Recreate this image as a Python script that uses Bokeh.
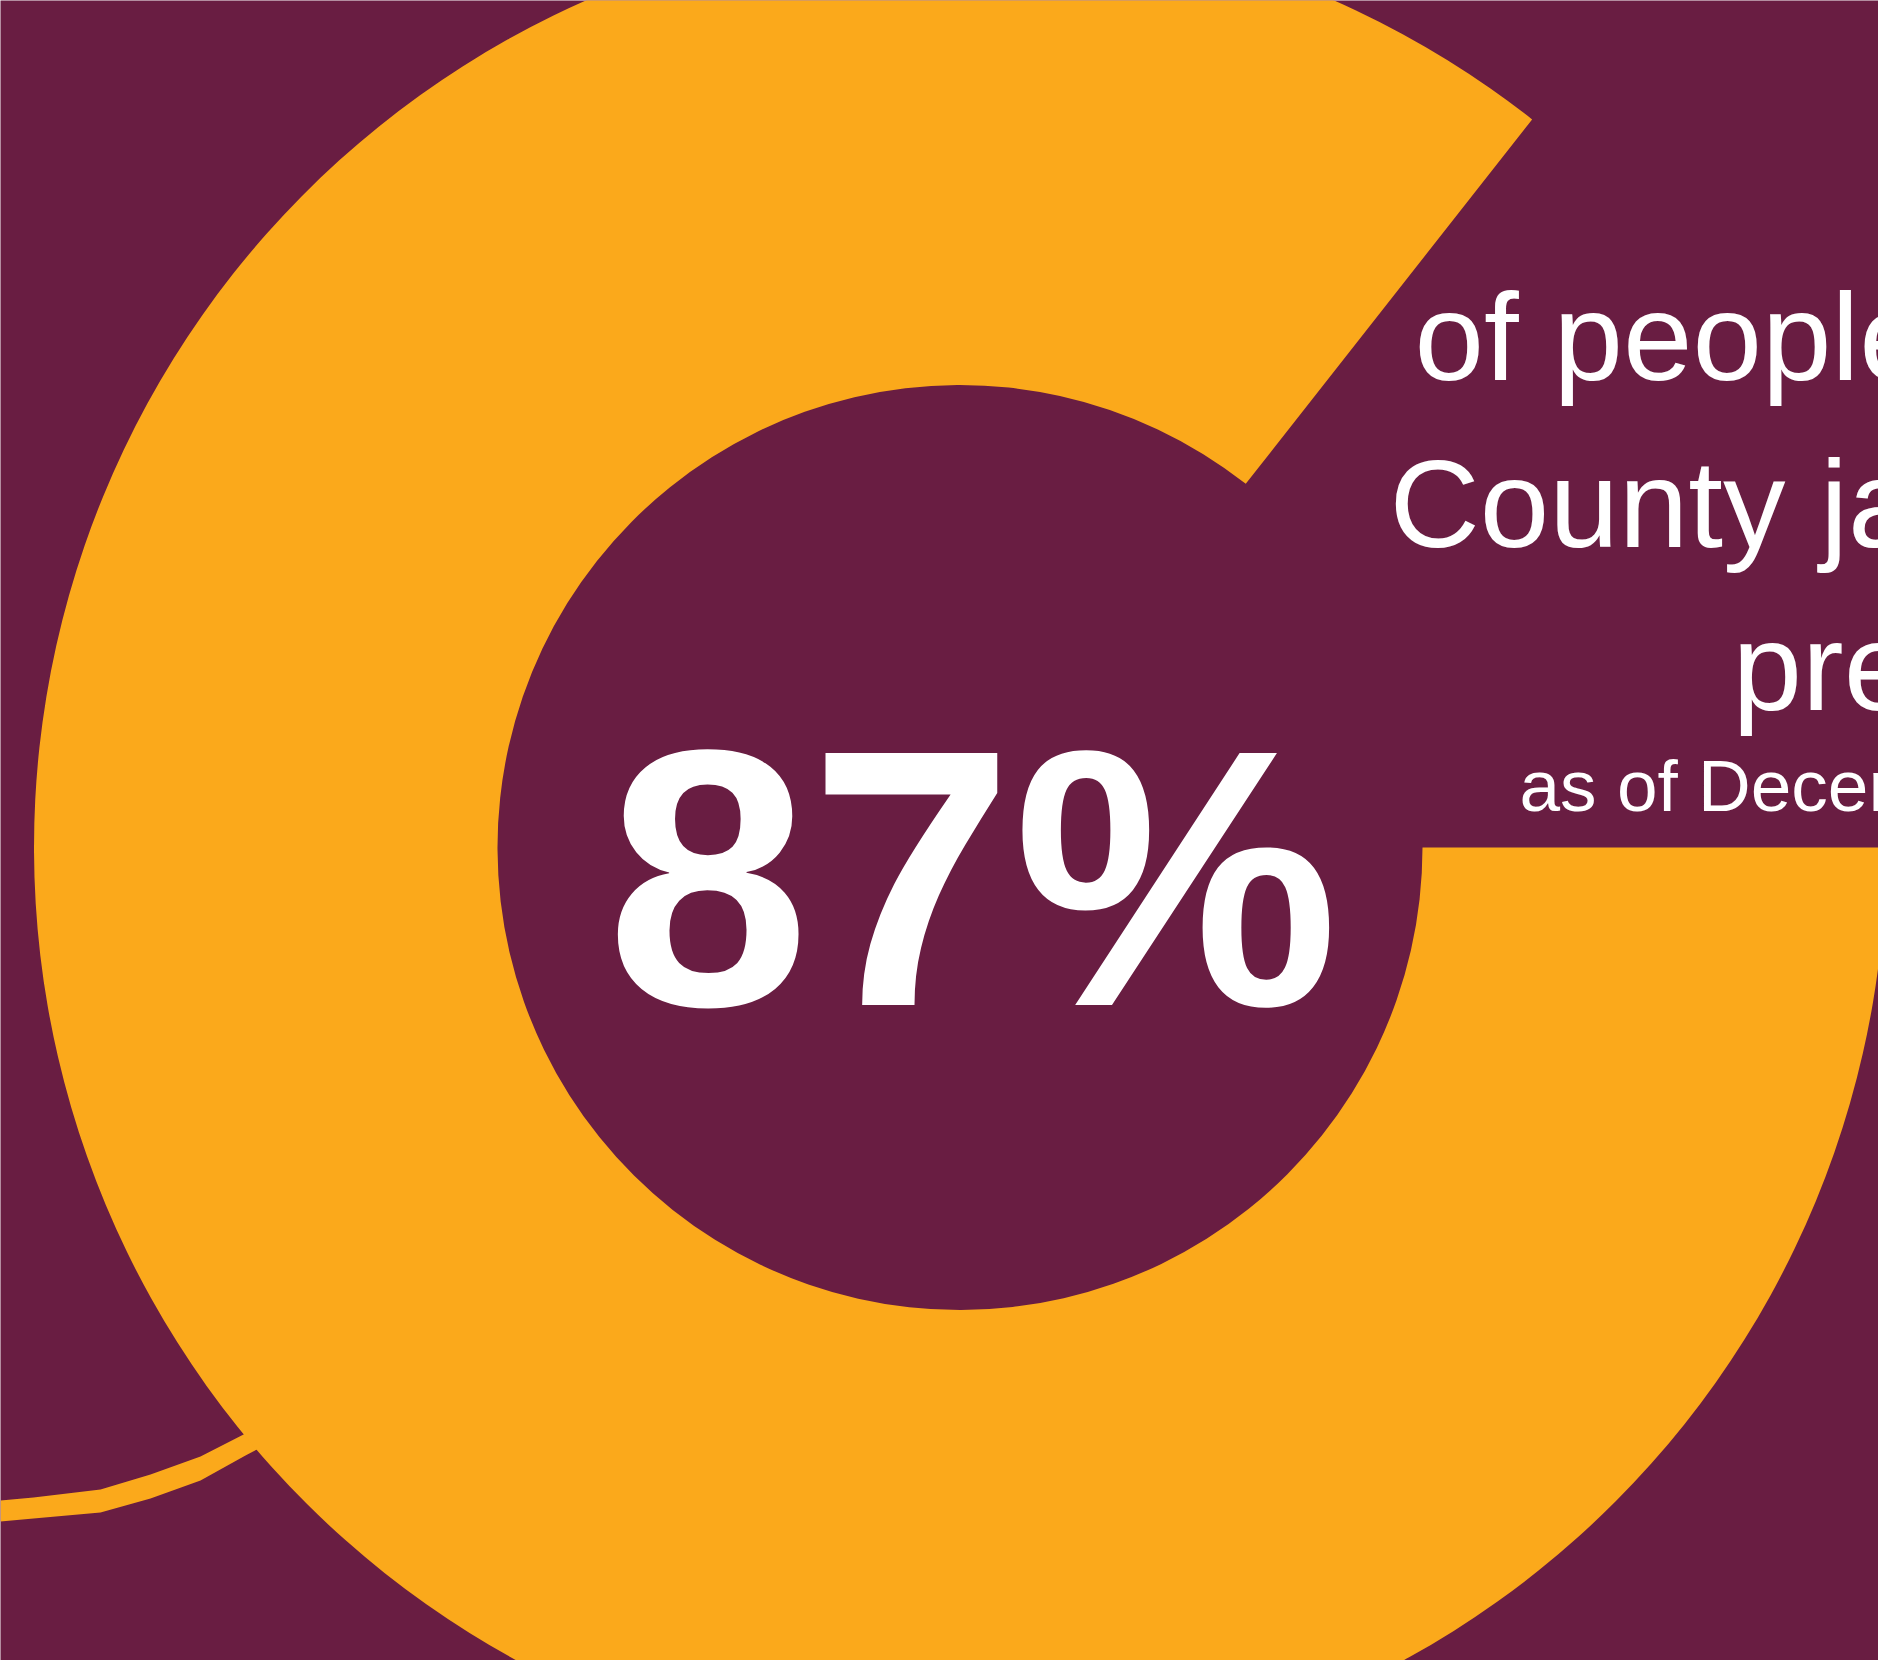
from bokeh.plotting import figure
from bokeh.models import ColumnDataSource, Range1d
from bokeh.core.properties import value
from bokeh.embed import file_html
from bokeh.resources import INLINE
import math

# ---- data ----
headline_value = ["87%"]
# share of the ring as drawn in the picture (filled arc vs. open gap), in percent
ring_labels = ["pretrial", "gap"]
ring_shares = [85.6, 14.4]
caption_lines = ["of people", "County jail", "pretrial"]
date_line = ["as of December"]
# decorative brush stroke outline (picture pixels, x to the right, y downward)
stroke_x = [0, 33, 100, 150, 200, 245, 285]
stroke_top = [1500, 1497, 1489, 1474, 1456, 1433, 1411]
stroke_bottom = [1521, 1518, 1512, 1498, 1480, 1455, 1434]

BG = "#691D42"
ORANGE = "#FBA91B"
W, H = 1878, 1660

p = figure(width=W, height=H, output_backend="svg", toolbar_location=None,
           x_range=Range1d(0, W), y_range=Range1d(0, H),
           min_border=0, min_border_left=0, min_border_right=0,
           min_border_top=0, min_border_bottom=0)
p.axis.visible = False
p.grid.visible = False
p.outline_line_color = None
p.background_fill_color = BG
p.border_fill_color = BG

# brush stroke (behind the ring)
p.varea(x=stroke_x, y1=[H - v for v in stroke_bottom], y2=[H - v for v in stroke_top],
        fill_color=ORANGE)

# ring: gap starts at east and opens anticlockwise
gap_deg = ring_shares[1] / 100 * 360
src = ColumnDataSource(dict(
    start=[math.radians(gap_deg)],
    end=[math.radians(360)],
    label=[ring_labels[0]],
))
cx, cy = 959.5, H - 847
p.annular_wedge(x=cx, y=cy, inner_radius=462.5, outer_radius=926,
                start_angle="start", end_angle="end", direction="anticlock",
                fill_color=ORANGE, line_color=None, source=src)

# baseline helper: bokeh's rendered baseline sits ~0.35*size below y
def base(y_screen, size):
    return H - (y_screen - 0.35 * size)

# headline number
big = 366
p.text(x=[972], y=[base(1006, big)], text=headline_value,
       text_font=value("Liberation Sans"), text_font_style="bold",
       text_font_size=f"{big}px", text_color="white",
       text_align="center", text_baseline="alphabetic")

# caption
cap = 125
cap_x = [1414, 1389, 1732]
cap_y = [base(380, cap), base(547, cap), base(710, cap)]
p.text(x=cap_x, y=cap_y, text=caption_lines,
       text_font=value("Liberation Sans"), text_font_size=f"{cap}px",
       text_color="white", text_align="left", text_baseline="alphabetic")
small = 73
p.text(x=[1519], y=[base(811, small)], text=date_line,
       text_font=value("Liberation Sans"), text_font_size=f"{small}px",
       text_color="white", text_align="left", text_baseline="alphabetic")

open("out.html", "w").write(file_html(p, INLINE))
